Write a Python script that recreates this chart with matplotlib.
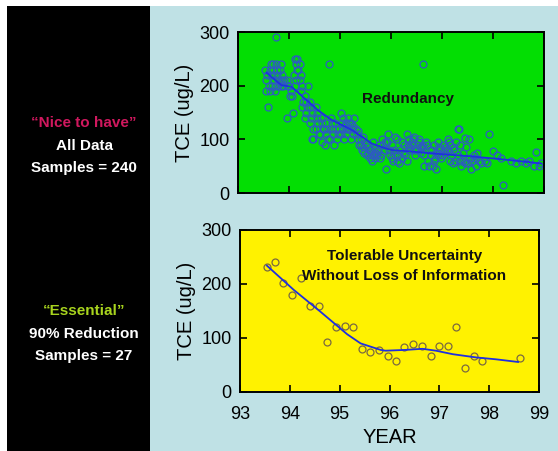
import matplotlib
matplotlib.use("Agg")
import matplotlib.pyplot as plt
from matplotlib.patches import Rectangle

plt.rcParams['font.family'] = ['Liberation Sans', 'DejaVu Sans']

# ---------------- data ----------------
all_year = [
    93.52, 93.54, 93.55, 93.58, 93.56, 93.60, 93.62, 93.63,
    93.65, 93.68, 93.66, 93.70, 93.67, 93.72, 93.69,
    93.75, 93.74, 93.77, 93.76, 93.78, 93.79, 93.73,
    93.82, 93.84, 93.86, 93.85, 93.88, 93.90, 93.87, 93.83,
    93.96, 93.98, 94.00, 94.02, 93.97, 94.04,
    94.08, 94.12, 94.15, 94.13, 94.16, 94.10, 94.14, 94.18, 94.11, 94.06,
    94.22, 94.24, 94.21, 94.26, 94.23, 94.28, 94.25,
    94.32, 94.34, 94.36, 94.33, 94.31, 94.38,
    94.42, 94.44, 94.46, 94.41, 94.47, 94.43, 94.45, 94.48,
    94.52, 94.54, 94.56, 94.53, 94.58, 94.55,
    94.62, 94.64, 94.66, 94.61, 94.68, 94.65,
    94.78, 94.74, 94.76, 94.73, 94.72, 94.71,
    94.82, 94.84, 94.86, 94.81, 94.88, 94.85,
    94.92, 94.94, 94.96, 94.91, 94.98,
    95.02, 95.04, 95.06, 95.01, 95.08, 95.05, 95.09,
    95.12, 95.14, 95.16, 95.11, 95.18, 95.15,
    95.22, 95.24, 95.26, 95.21, 95.28, 95.25,
    95.32, 95.34, 95.36, 95.38, 95.35,
    95.42, 95.44, 95.46, 95.41, 95.48, 95.45,
    95.52, 95.54, 95.56, 95.51, 95.58, 95.55,
    95.62, 95.64, 95.66, 95.61, 95.68, 95.65,
    95.72, 95.74, 95.76, 95.71, 95.78,
    95.82, 95.84, 95.86, 95.81, 95.88,
    95.92, 95.94, 95.96, 95.91, 95.98,
    96.02, 96.04, 96.06, 96.01, 96.08, 96.05,
    96.12, 96.14, 96.16, 96.11, 96.18,
    96.22, 96.24, 96.26, 96.21, 96.28,
    96.32, 96.34, 96.36, 96.31, 96.38, 96.35,
    96.42, 96.44, 96.46, 96.41, 96.48, 96.45,
    96.52, 96.54, 96.56, 96.51, 96.58, 96.55,
    96.62, 96.63, 96.64, 96.61, 96.68, 96.65,
    96.72, 96.74, 96.76, 96.71, 96.78,
    96.82, 96.84, 96.86, 96.81, 96.88, 96.85,
    96.92, 96.94, 96.96, 96.91, 96.98, 96.95,
    97.02, 97.04, 97.06, 97.01, 97.08,
    97.12, 97.14, 97.16, 97.11, 97.18, 97.15,
    97.22, 97.24, 97.26, 97.21, 97.28,
    97.32, 97.33, 97.36, 97.31, 97.38, 97.35,
    97.45, 97.42, 97.44, 97.46, 97.48,
    97.52, 97.54, 97.56, 97.51, 97.58,
    97.62, 97.64, 97.66, 97.68,
    97.72, 97.76,
    97.85, 97.88,
    97.93, 98.00, 98.08, 98.15, 98.20, 98.35, 98.45, 98.55, 98.65,
    98.70, 98.80, 98.84, 98.90, 98.95,
]
all_tce = [
    230, 210, 190, 160, 220, 200, 230, 190,
    240, 240, 220, 210, 200, 190, 230,
    290, 240, 230, 220, 210, 200, 200,
    230, 240, 210, 200, 200, 210, 220, 205,
    210, 200, 200, 180, 140, 190,
    150, 250, 250, 240, 230, 220, 210, 230, 200, 180,
    240, 220, 210, 200, 190, 170, 160,
    180, 170, 160, 150, 140, 200,
    170, 160, 150, 130, 120, 140, 100, 100,
    160, 150, 130, 120, 110, 140,
    140, 130, 120, 110, 120, 95,
    240, 120, 100, 110, 130, 90,
    140, 120, 110, 100, 90, 130,
    120, 100, 110, 130, 120,
    150, 130, 120, 110, 100, 140, 125,
    130, 120, 140, 110, 130, 120,
    130, 120, 110, 100, 140, 125,
    120, 110, 100, 90, 115,
    90, 80, 85, 100, 75, 105,
    70, 75, 80, 90, 65, 85,
    60, 70, 75, 80, 65, 95,
    70, 80, 90, 75, 65,
    100, 90, 80, 70, 95,
    95, 110, 80, 45, 70,
    90, 60, 70, 65, 105, 80,
    60, 70, 55, 100, 80,
    65, 75, 90, 95, 70,
    110, 90, 85, 60, 80, 100,
    95, 100, 80, 90, 70, 105,
    90, 100, 85, 80, 75, 95,
    240, 90, 50, 85, 95, 70,
    60, 50, 80, 90, 70,
    50, 60, 65, 80, 45, 90,
    95, 70, 80, 75, 65, 85,
    90, 80, 75, 70, 85,
    100, 95, 90, 80, 70, 60,
    85, 80, 60, 55, 95,
    120, 120, 90, 70, 50, 60,
    102, 75, 60, 55, 85,
    100, 65, 45, 55, 60,
    70, 65, 50, 75,
    60, 55,
    60, 55,
    110, 79, 70, 65, 15, 60, 55, 60, 55,
    60, 50, 77, 50, 55,
]
all_fit_year = [93.56, 93.85, 94.05, 94.31, 94.57, 94.84, 95.24, 95.63, 95.90,
                96.02, 96.43, 96.95, 97.47, 98.00, 98.66, 98.95]
all_fit_tce = [224, 201, 198, 176, 154, 136, 117, 92, 83,
               80, 77, 72.6, 69, 64.5, 58, 55]

ess_year = [93.54, 93.71, 93.87, 94.05, 94.22, 94.40, 94.58, 94.75, 94.92,
            95.10, 95.27, 95.44, 95.61, 95.79, 95.96, 96.14, 96.30, 96.47,
            96.65, 96.83, 97.00, 97.17, 97.33, 97.52, 97.69, 97.86, 98.61]
ess_tce = [231, 241, 201, 180, 211, 160, 160, 93, 121,
           122, 121, 79, 74, 78, 67, 57, 83, 88,
           85, 67, 86, 85, 121, 44, 67, 57, 63]
ess_fit_year = [93.54, 94.08, 94.61, 95.15, 95.42, 95.82, 95.92, 96.33, 96.66,
                96.93, 97.27, 97.74, 98.14, 98.58]
ess_fit_tce = [234, 189, 149, 107, 90, 78, 76.5, 78, 80,
               76.5, 70, 64, 60.5, 55.6]

year_ticks = [93, 94, 95, 96, 97, 98, 99]
tce_ticks = [0, 100, 200, 300]

# ---------------- figure ----------------
W, H = 558, 451
fig = plt.figure(figsize=(W / 100, H / 100), dpi=100, facecolor='white')

bg = '#bfe1e5'
fig.patches.append(Rectangle((7 / W, 0), 1 - 7 / W, 1 - 6 / H, transform=fig.transFigure,
                             facecolor=bg, edgecolor='none', zorder=-5))
fig.patches.append(Rectangle((7 / W, 0), (150 - 7) / W, 1 - 6 / H, transform=fig.transFigure,
                             facecolor='black', edgecolor='none', zorder=-4))

def fx(px):
    return px / W

def fy(py):
    return 1 - py / H

ax1 = fig.add_axes([fx(238), fy(193), (544 - 238) / W, (193 - 32) / H])
ax2 = fig.add_axes([fx(240), fy(392), (539 - 240) / W, (392 - 230) / H])

line_col = '#1f2fe0'
for ax, face in ((ax1, '#03de03'), (ax2, '#fff200')):
    ax.set_facecolor(face)
    ax.set_xlim(93, 99)
    ax.set_ylim(0, 300)
    ax.set_xticks(year_ticks)
    ax.set_yticks(tce_ticks)
    ax.tick_params(direction='in', length=5, width=1.2, top=True, right=True,
                   labelsize=13, colors='black')
    ax.tick_params(axis='y', pad=6)
    ax.tick_params(axis='x', pad=10)
    for s in ax.spines.values():
        s.set_linewidth(1.4)
    ax.set_ylabel('TCE (ug/L)', fontsize=14.5, labelpad=4)

ax1.tick_params(labelbottom=False)

ax1.plot(all_year, all_tce, linestyle='none', marker='o', markersize=5,
         markerfacecolor='none', markeredgecolor='#2d5cc0', markeredgewidth=0.9, zorder=2)
ax1.plot(all_fit_year, all_fit_tce, color=line_col, linewidth=1.3, zorder=3)
ax1.text(96.33, 175, 'Redundancy', ha='center', va='center', fontsize=11,
         fontweight='bold', color='#111111')

ax2.plot(ess_year, ess_tce, linestyle='none', marker='o', markersize=5,
         markerfacecolor='none', markeredgecolor='#7a6a40', markeredgewidth=0.9, zorder=2)
ax2.plot(ess_fit_year, ess_fit_tce, color=line_col, linewidth=1.3, zorder=3)
ax2.text(96.3, 233, 'Tolerable Uncertainty\nWithout Loss of Information', ha='center',
         va='center', fontsize=11, fontweight='bold', color='#111111', linespacing=1.5)
ax2.set_xlabel('YEAR', fontsize=14.5, labelpad=4)

# left panel labels
cx = fx(84)
fs = 11
fig.text(cx, fy(123), '\u201cNice to have\u201d', ha='center', va='center', fontsize=fs,
         fontweight='bold', color='#d0185e')
fig.text(cx, fy(146), 'All Data', ha='center', va='center', fontsize=fs,
         fontweight='bold', color='white')
fig.text(cx, fy(168), 'Samples = 240', ha='center', va='center', fontsize=fs,
         fontweight='bold', color='white')
fig.text(cx, fy(311), '\u201cEssential\u201d', ha='center', va='center', fontsize=fs,
         fontweight='bold', color='#a8d41e')
fig.text(cx, fy(334), '90% Reduction', ha='center', va='center', fontsize=fs,
         fontweight='bold', color='white')
fig.text(cx, fy(356), 'Samples = 27', ha='center', va='center', fontsize=fs,
         fontweight='bold', color='white')

fig.savefig('out.png', dpi=100, facecolor='white')
